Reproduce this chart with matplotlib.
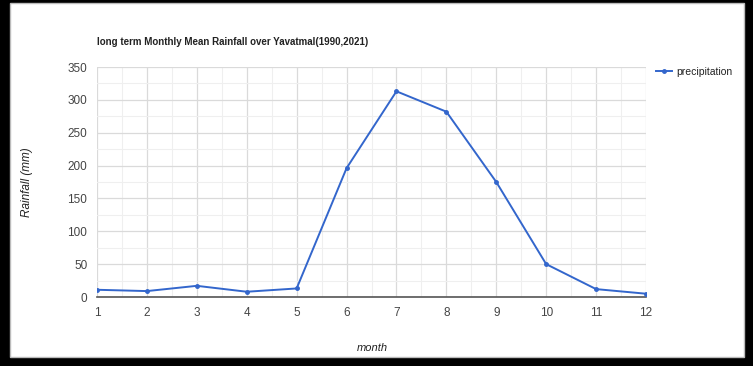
import matplotlib.pyplot as plt
from matplotlib.patches import Rectangle
from matplotlib.ticker import MultipleLocator

months = [1, 2, 3, 4, 5, 6, 7, 8, 9, 10, 11, 12]
precipitation = [11, 9, 17, 8, 13, 196, 313, 282, 175, 50, 12, 5]

plt.rcParams['font.family'] = ['Liberation Sans', 'DejaVu Sans']

fig = plt.figure(figsize=(7.53, 3.66), dpi=100, facecolor='black')
# white card inside the black frame
fig.patches.append(Rectangle((10 / 753, 1 - 357 / 366), 734 / 753, 354 / 366,
                             transform=fig.transFigure, facecolor='white',
                             edgecolor='#bbbbbb', lw=1, zorder=-5))

ax = fig.add_axes([97 / 753, 1 - 297 / 366, 549 / 753, 230 / 366])
ax.set_facecolor('white')
ax.plot(months, precipitation, color='#3366cc', lw=1.4, marker='o', ms=2.5,
        label='precipitation', zorder=3)

ax.set_xlim(1, 12)
ax.set_ylim(0, 350)
ax.xaxis.set_major_locator(MultipleLocator(1))
ax.xaxis.set_minor_locator(MultipleLocator(0.5))
ax.yaxis.set_major_locator(MultipleLocator(50))
ax.yaxis.set_minor_locator(MultipleLocator(25))
ax.grid(which='major', color='#dadada', lw=0.9)
ax.grid(which='minor', color='#efefef', lw=0.8)
for s in ['top', 'right', 'left']:
    ax.spines[s].set_visible(False)
ax.spines['bottom'].set_color('#555555')
ax.spines['bottom'].set_linewidth(1.2)
ax.tick_params(which='both', length=0, colors='#444444', labelsize=8.5)
ax.tick_params(axis='x', pad=7)
ax.tick_params(axis='y', pad=7)

ax.text(0, 1.109, 'long term Monthly Mean Rainfall over Yavatmal(1990,2021)',
        transform=ax.transAxes, ha='left', va='center', fontsize=7,
        fontweight='bold', color='#222222')
ax.set_xlabel('month', fontstyle='italic', fontsize=8, color='#222222')
ax.xaxis.set_label_coords(0.501, -0.2)
ax.set_ylabel('Rainfall (mm)', fontstyle='italic', fontsize=8.5, color='#222222')
ax.yaxis.set_label_coords(-0.1166, 0.5)

ax.legend(loc='center left', bbox_to_anchor=(1.018, 0.978), frameon=False,
          fontsize=7.5, handlelength=1.5, handletextpad=0.5, borderpad=0,
          borderaxespad=0, labelcolor='#222222')

fig.savefig('out.png', dpi=100, facecolor='black')
